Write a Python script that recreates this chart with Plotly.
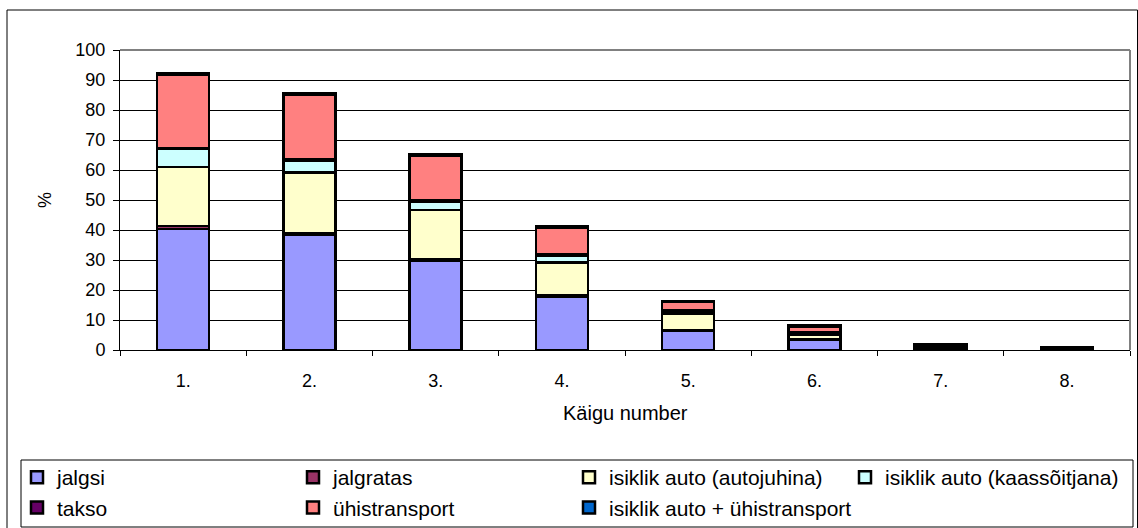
import plotly.graph_objects as go

categories = ["1.", "2.", "3.", "4.", "5.", "6.", "7.", "8."]
series_names = ["jalgsi", "jalgratas", "isiklik auto (autojuhina)", "isiklik auto (kaassõitjana)",
                "takso", "ühistransport", "isiklik auto + ühistransport"]
jalgsi = [40.3, 38.3, 29.8, 17.6, 6.4, 3.3, 0.5, 0.2]
jalgratas = [1.0, 0.7, 0.5, 0.5, 0.3, 0.2, 0.1, 0.0]
autojuhina = [19.7, 20.1, 16.3, 11.0, 5.5, 1.5, 0.4, 0.2]
kaassoitjana = [6.0, 3.9, 2.7, 2.2, 0.3, 0.3, 0.1, 0.1]
takso = [0.4, 0.5, 0.7, 0.7, 0.8, 0.6, 0.2, 0.1]
yhistransport = [24.3, 21.5, 14.8, 8.9, 2.7, 1.9, 0.5, 0.2]
auto_yhis = [0.5, 0.5, 0.5, 0.4, 0.3, 0.3, 0.1, 0.1]
y_ticks = [0, 10, 20, 30, 40, 50, 60, 70, 80, 90, 100]

colors = ["#9999FF", "#993366", "#FFFFCC", "#CCFFFF", "#660066", "#FF8080", "#0066CC"]
values = [jalgsi, jalgratas, autojuhina, kaassoitjana, takso, yhistransport, auto_yhis]

FONT = "Liberation Sans, Arial, sans-serif"

fig = go.Figure()
for name, vals, col in zip(series_names, values, colors):
    fig.add_trace(go.Bar(
        x=categories, y=vals, name=name,
        marker=dict(color=col, line=dict(color="black", width=2.5)),
        width=0.41,
    ))

W, H = 1138, 528
L, R, T, B = 120, 8, 50, 178
pw = W - L - R
ph = H - T - B

def px(x):
    return (x - L) / pw

def py(y):
    return (H - B - y) / ph

fig.update_layout(
    width=W, height=H,
    margin=dict(l=L, r=R, t=T, b=B, autoexpand=False),
    barmode="stack",
    bargap=0.59,
    plot_bgcolor="white", paper_bgcolor="white",
    font=dict(family=FONT, size=18, color="black"),
    showlegend=True,
    legend=dict(
        orientation="h", x=px(17), y=py(457), xanchor="left", yanchor="top",
        entrywidth=231, font=dict(family=FONT, size=21, color="black"),
        bgcolor="rgba(0,0,0,0)", borderwidth=0, traceorder="normal",
    ),
    xaxis=dict(
        type="category", showgrid=False, showline=True, linecolor="black", linewidth=1,
        ticks="outside", tickson="boundaries", ticklen=5, tickcolor="black",
        tickfont=dict(family=FONT, size=18), ticklabelstandoff=14,
    ),
    yaxis=dict(
        range=[0, 100], tickvals=y_ticks, showgrid=True, gridcolor="black", gridwidth=1,
        showline=True, linecolor="black", linewidth=1, ticks="outside", ticklen=6,
        tickcolor="black", tickfont=dict(family=FONT, size=18), ticklabelstandoff=4,
        zeroline=False,
    ),
    annotations=[
        dict(text="%", x=px(45), y=py(200), xref="paper", yref="paper", showarrow=False,
             xanchor="center", yanchor="middle",
             textangle=-90, font=dict(family=FONT, size=18)),
        dict(text="Käigu number", x=0.5, y=py(413), xref="paper", yref="paper", showarrow=False,
             xanchor="center", yanchor="middle",
             font=dict(family=FONT, size=20)),
    ],
    shapes=[
        dict(type="line", xref="paper", yref="paper", x0=0, x1=1, y0=1, y1=1,
             line=dict(color="#808080", width=2), layer="above"),
        dict(type="line", xref="paper", yref="paper", x0=1, x1=1, y0=0, y1=1,
             line=dict(color="#808080", width=2), layer="above"),
        dict(type="rect", xref="paper", yref="paper", x0=px(7), x1=px(1137.5), y0=py(530), y1=py(10),
             line=dict(color="black", width=1), layer="below"),
        dict(type="rect", xref="paper", yref="paper", x0=px(21), x1=px(1133), y0=py(527), y1=py(460),
             line=dict(color="black", width=1), layer="below"),
    ],
)

fig.write_html("out.html", config={"displayModeBar": False},
               post_script="document.body.style.margin='0';document.body.style.padding='0';")
